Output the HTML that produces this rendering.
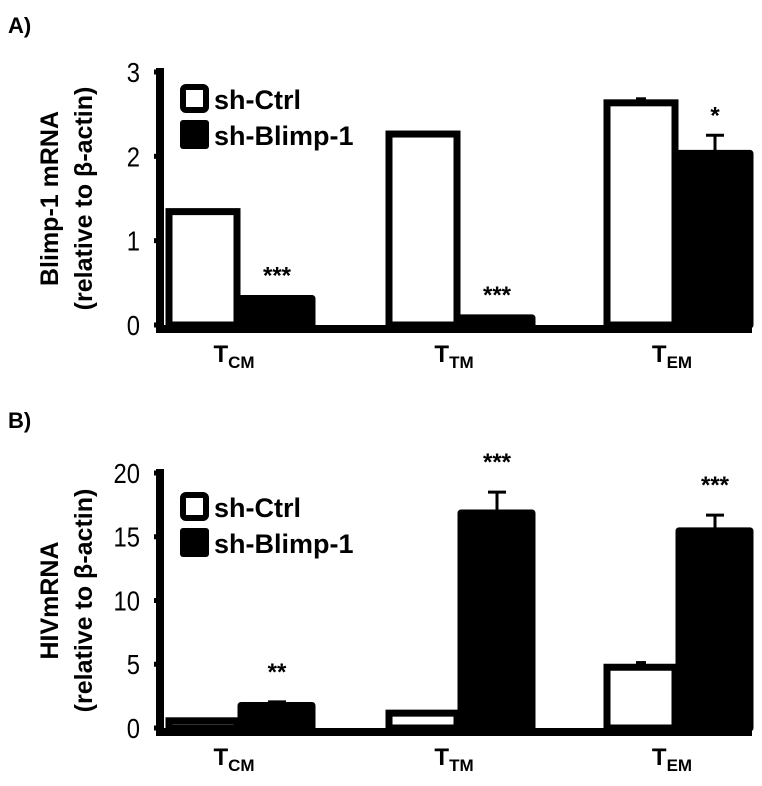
<!DOCTYPE html>
<html><head><meta charset="utf-8"><style>
body{margin:0;background:#fff;width:762px;height:781px;overflow:hidden}
svg{font-family:"Liberation Sans",Arial,sans-serif}
</style></head><body>
<svg id="fig" width="762" height="781" viewBox="0 0 762 781"></svg>
<script>
const categories=["CM","TM","EM"];
const aCtrl=[1.38,2.3,2.67];
const aCtrlErr=[0,0,0.03];
const aBlimp=[0.35,0.12,2.07];
const aBlimpErr=[0,0,0.18];
const aStars=["***","***","*"];
const aTicks=[0,1,2,3];
const bCtrl=[0.8,1.4,5.0];
const bCtrlErr=[0,0,0.25];
const bBlimp=[2.0,17.1,15.7];
const bBlimpErr=[0.05,1.4,1.0];
const bStars=["**","***","***"];
const bTicks=[0,5,10,15,20];
const NS="http://www.w3.org/2000/svg";
const svg=document.getElementById('fig');
function mk(tag,attrs,parent,text){const e=document.createElementNS(NS,tag);for(const k in attrs)e.setAttribute(k,attrs[k]);if(text!==undefined)e.textContent=text;(parent||svg).appendChild(e);return e;}
function panel(cfg){
  const g=mk('g',{});
  
  
  const y=v=>cfg.y0-(v/cfg.max)*(cfg.y0-cfg.yTop);
  const lab=mk('text',{x:8,y:cfg.labelY,'font-size':22,'font-weight':'bold'},g,cfg.label);
  
  
  const groupX=[166,386,604], bw=74;
  categories.forEach((c,i)=>{
    const x0=groupX[i];
    const hc=cfg.ctrl[i], hb=cfg.blimp[i];
    const r1=mk('rect',{x:x0+3,y:y(hc)+3,width:bw-6,height:cfg.y0-y(hc)-3,fill:'#fff',stroke:'#000','stroke-width':7},g);
    
    
    if(cfg.ctrlErr[i]>0){
      const l=mk('rect',{x:x0+bw/2-5,y:y(hc+cfg.ctrlErr[i]),width:10,height:y(hc-cfg.ctrlErr[i])-y(hc+cfg.ctrlErr[i]),fill:'#000'},g);
      
      
    }
    const xb=x0+bw;
    const r2=mk('rect',{x:xb+1,y:y(hb)+3,width:bw-3,height:cfg.y0-y(hb)-3,fill:'#000',stroke:'#000','stroke-width':7,'stroke-linejoin':'round'},g);
    
    
    if(cfg.blimpErr[i]>0){
      const ey=y(hb+cfg.blimpErr[i]);
      const e=mk('path',{d:`M${xb+bw/2} ${y(hb)} V${ey} M${xb+bw/2-9} ${ey} H${xb+bw/2+9}`,stroke:'#000','stroke-width':3,fill:'none'},g);
      
      
    }
    const st=mk('text',{x:xb+bw/2,y:Math.min(y(hb+cfg.blimpErr[i]),y(hb))-cfg.starGap,'text-anchor':'middle','font-size':24,'font-weight':'bold'},g,cfg.stars[i]);
    
    
    const xl=mk('text',{x:x0+bw-6,y:cfg.y0+37,'text-anchor':'middle','font-size':24,'font-weight':'bold'},g);
    
    
    mk('tspan',{},xl,'T');
    mk('tspan',{'font-size':17,dy:6},xl,c);
  });
  const ax=mk('path',{d:`M160 ${cfg.yTop-4} V${cfg.y0+4} H752`,stroke:'#000','stroke-width':8,fill:'none'},g);
  
  
  cfg.ticks.forEach(t=>{
    const tk=mk('line',{x1:154,x2:160,y1:y(t),y2:y(t),stroke:'#000','stroke-width':5},g);
    
    
    const tl=mk('text',{x:140,y:y(t)+10,'text-anchor':'end','font-size':28,transform:`translate(140 0) scale(0.85 1) translate(-140 0)`},g,String(t));
    
    
  });
  const cy=(cfg.y0+cfg.yTop)/2;
  const t1=mk('text',{transform:`translate(58 ${cy}) rotate(-90)`,'text-anchor':'middle','font-size':25,'font-weight':'bold'},g,cfg.title1);
  
  
  const t2=mk('text',{transform:`translate(92 ${cy}) rotate(-90)`,'text-anchor':'middle','font-size':25,'font-weight':'bold'},g,'(relative to β-actin)');
  
  
  const lg=mk('g',{},g);
  
  
  const ly=cfg.legY;
  const b1=mk('rect',{x:183,y:ly+3,width:23,height:23,rx:3,fill:'#fff',stroke:'#000','stroke-width':6},lg);
  
  
  const l1=mk('text',{x:214,y:ly+25,'font-size':27,'font-weight':'bold'},lg,'sh-Ctrl');
  
  
  const b2=mk('rect',{x:180,y:ly+36,width:29,height:29,rx:3,fill:'#000'},lg);
  
  
  const l2=mk('text',{x:214,y:ly+61,'font-size':27,'font-weight':'bold'},lg,'sh-Blimp-1');
  
  
}
panel({name:'panel-a',label:'A)',labelY:33,y0:325,yTop:72,max:3,ctrl:aCtrl,ctrlErr:aCtrlErr,blimp:aBlimp,blimpErr:aBlimpErr,stars:aStars,ticks:aTicks,title1:'Blimp-1 mRNA',legY:84,starGap:12});
panel({name:'panel-b',label:'B)',labelY:428,y0:728,yTop:473,max:20,ctrl:bCtrl,ctrlErr:bCtrlErr,blimp:bBlimp,blimpErr:bBlimpErr,stars:bStars,ticks:bTicks,title1:'HIVmRNA',legY:492,starGap:22});
</script>
</body></html>
